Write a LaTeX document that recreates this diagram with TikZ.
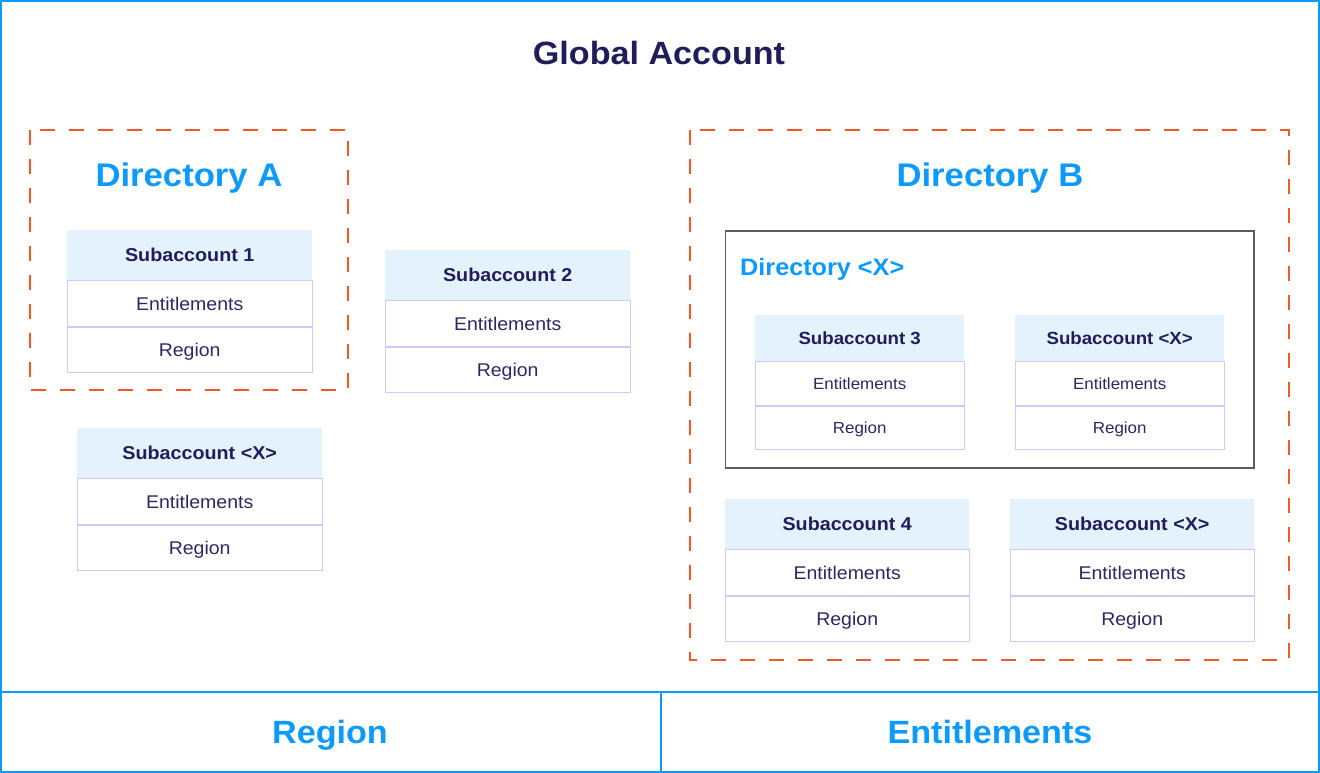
\documentclass[tikz,border=0pt]{standalone}
\usepackage{fontspec}
\setmainfont{Liberation Sans}[FakeStretch=1.06]
\definecolor{bblue}{HTML}{0C9AFF}
\definecolor{navy}{HTML}{211D5A}
\definecolor{celltext}{HTML}{2B2862}
\definecolor{hdrfill}{HTML}{E4F2FE}
\definecolor{cellline}{HTML}{CFC9F7}
\definecolor{dorange}{HTML}{F15A22}
\definecolor{boxgray}{HTML}{5C5B66}
\newcommand\fsz[1]{\fontsize{#1}{#1}\selectfont}
\tikzset{
  base/.style={inner sep=0pt, text height={0.72*#1}, text depth={0.02*#1}},
  hdr/.style={base=#1, fill=hdrfill, draw=none, anchor=north west, text=navy, font=\bfseries\fsz{#1}},
  cell/.style={base=#1, draw=cellline, line width=1pt, anchor=north, text=celltext, font=\fsz{#1}},
  dirdash/.style={draw=dorange, line width=2pt, dash pattern=on 15pt off 14pt},
  outer/.style={draw=bblue, line width=2pt},
  ttl/.style={base=#1, text=bblue, font=\bfseries\fsz{#1}},
}
\begin{document}
\begin{tikzpicture}[x=1pt,y=-1pt]
\useasboundingbox (0,0) rectangle (1320,773);
% outer frame
\draw[outer] (1,1) rectangle (1319,772);
\draw[outer] (1,692) -- (1319,692);
\draw[outer] (661,692) -- (661,772);
\node[base=32.2, text=navy, font=\bfseries\fsz{32.2}] (ga) at (659,53) {Global Account};
\node[ttl=32.2] (breg) at (330,732) {Region};
\node[ttl=32.2] (bent) at (990,732) {Entitlements};
% directories
\draw[dirdash] (30,130) rectangle (348,390);
\draw[dirdash] (690,130) rectangle (1289,660);
\node[ttl=32.7] (dira) at (189,175) {Directory A};
\node[ttl=32.7] (dirb) at (990,175) {Directory B};
\draw[draw=boxgray, line width=1.2pt] (725.5,231) rectangle (1254,468);
\node[ttl=23.8, anchor=west] (dirx) at (740,267) {Directory <X>};
% Subaccount 1
\node[hdr=18.6, minimum width=245pt, minimum height=50pt] (s1h) at (67,230) {Subaccount 1};
\node[cell=18.4, minimum width=245pt, minimum height=45.5pt] (s1e) at (s1h.south) {Entitlements};
\node[cell=18.4, minimum width=245pt, minimum height=45.5pt] (s1r) at (s1e.south) {Region};
% Subaccount 2
\node[hdr=18.6, minimum width=245pt, minimum height=50pt] (s2h) at (385,250) {Subaccount 2};
\node[cell=18.4, minimum width=245pt, minimum height=45.5pt] (s2e) at (s2h.south) {Entitlements};
\node[cell=18.4, minimum width=245pt, minimum height=45.5pt] (s2r) at (s2e.south) {Region};
% Subaccount <X> left
\node[hdr=18.6, minimum width=245pt, minimum height=50pt] (sxh) at (77,428) {Subaccount <X>};
\node[cell=18.4, minimum width=245pt, minimum height=45.5pt] (sxe) at (sxh.south) {Entitlements};
\node[cell=18.4, minimum width=245pt, minimum height=45.5pt] (sxr) at (sxe.south) {Region};
% Subaccount 3
\node[hdr=17.6, minimum width=209pt, minimum height=46pt] (s3h) at (755,315) {Subaccount 3};
\node[cell=16, minimum width=209pt, minimum height=43.5pt] (s3e) at (s3h.south) {Entitlements};
\node[cell=16, minimum width=209pt, minimum height=43.5pt] (s3r) at (s3e.south) {Region};
% Subaccount <X> inner
\node[hdr=17.6, minimum width=209pt, minimum height=46pt] (sx2h) at (1015,315) {Subaccount <X>};
\node[cell=16, minimum width=209pt, minimum height=43.5pt] (sx2e) at (sx2h.south) {Entitlements};
\node[cell=16, minimum width=209pt, minimum height=43.5pt] (sx2r) at (sx2e.south) {Region};
% Subaccount 4
\node[hdr=18.6, minimum width=244pt, minimum height=50pt] (s4h) at (725,499) {Subaccount 4};
\node[cell=18.4, minimum width=244pt, minimum height=45.5pt] (s4e) at (s4h.south) {Entitlements};
\node[cell=18.4, minimum width=244pt, minimum height=45.5pt] (s4r) at (s4e.south) {Region};
% Subaccount <X> right bottom
\node[hdr=18.6, minimum width=244pt, minimum height=50pt] (sx3h) at (1010,499) {Subaccount <X>};
\node[cell=18.4, minimum width=244pt, minimum height=45.5pt] (sx3e) at (sx3h.south) {Entitlements};
\node[cell=18.4, minimum width=244pt, minimum height=45.5pt] (sx3r) at (sx3e.south) {Region};
\end{tikzpicture}
\end{document}
